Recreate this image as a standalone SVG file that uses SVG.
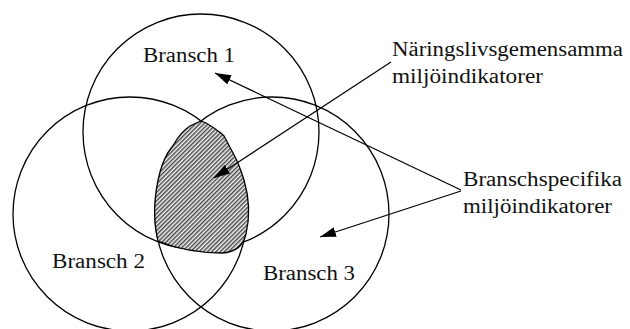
<svg xmlns="http://www.w3.org/2000/svg" width="630" height="329" viewBox="0 0 630 329">
  <style>
    .set { fill: none; stroke: #000; stroke-width: 1.3; }
    .lbl { font-family: "Liberation Serif", "Times New Roman", Tinos, "Noto Serif", "DejaVu Serif", FreeSerif, Times, serif; font-size: 20px; fill: #111; }
    .conn { stroke: #000; stroke-width: 1.2; fill: none; marker-end: url(#arrow); }
  </style>
  <defs>
    <pattern id="hatch" width="3" height="3" patternUnits="userSpaceOnUse" patternTransform="rotate(45)">
      <rect width="3" height="3" fill="#f2f2f2"/>
      <line x1="0.75" y1="0" x2="0.75" y2="3" stroke="#333" stroke-width="1.3"/>
    </pattern>
    <marker id="arrow" viewBox="0 0 16 10" refX="16" refY="5" markerWidth="16" markerHeight="10" markerUnits="userSpaceOnUse" orient="auto">
      <path d="M0,0 L16,5 L0,10 Z" fill="#000"/>
    </marker>
  </defs>

  <g id="bransch1">
    <circle class="set" cx="201" cy="132" r="118"/>
    <text class="lbl" x="143" y="62" textLength="92" lengthAdjust="spacingAndGlyphs">Bransch 1</text>
  </g>
  <g id="bransch2">
    <circle class="set" cx="130" cy="214" r="117"/>
    <text class="lbl" x="52" y="268" textLength="93" lengthAdjust="spacingAndGlyphs">Bransch 2</text>
  </g>
  <g id="bransch3">
    <circle class="set" cx="272" cy="214" r="117"/>
    <text class="lbl" x="263" y="280" textLength="92" lengthAdjust="spacingAndGlyphs">Bransch 3</text>
  </g>

  <g id="gemensamt-omrade">
    <path d="M201,121 C207,123 213,127 218,131 L221,133 L224,136 C227,141 229,146 232,151 C237,160 241,170 244,180 C249,197 250,217 246,234 C243,246 236,252 222,253 C205,253 180,250 158,241 C153,220 154,195 160,172 C163,161 167,153 172,147 L174,144 C178,137 184,130 190,126 Z" fill="url(#hatch)" stroke="#000" stroke-width="1.3"/>
  </g>

  <g id="label-gemensamma">
    <text class="lbl" x="392" y="56" textLength="231" lengthAdjust="spacingAndGlyphs">Näringslivsgemensamma</text>
    <text class="lbl" x="392" y="83" textLength="151" lengthAdjust="spacingAndGlyphs">miljöindikatorer</text>
  </g>
  <g id="label-specifika">
    <text class="lbl" x="463" y="186" textLength="159" lengthAdjust="spacingAndGlyphs">Branschspecifika</text>
    <text class="lbl" x="463" y="213" textLength="149" lengthAdjust="spacingAndGlyphs">miljöindikatorer</text>
  </g>

  <g id="connectors">
    <line class="conn" x1="391" y1="62" x2="214" y2="178"/>
    <line class="conn" x1="461" y1="190" x2="215" y2="73"/>
    <line class="conn" x1="461" y1="191" x2="320" y2="237"/>
  </g>
</svg>
